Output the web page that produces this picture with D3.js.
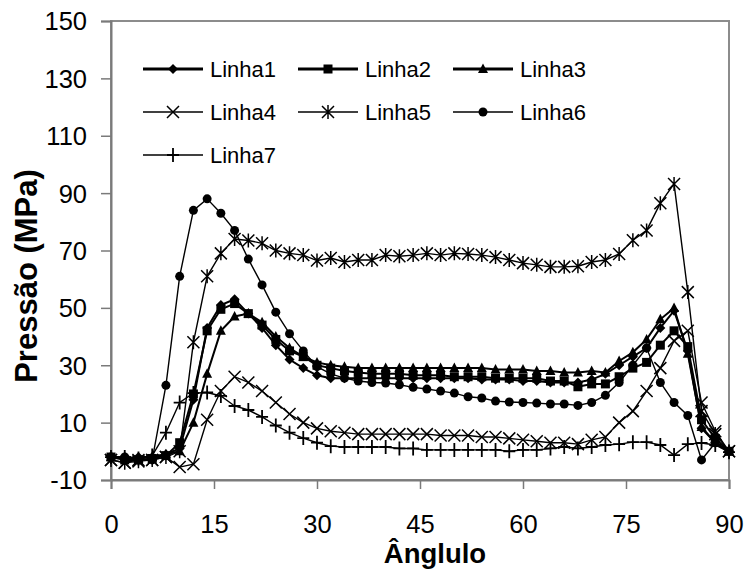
<!DOCTYPE html>
<html>
<head>
<meta charset="utf-8">
<script src="https://cdn.jsdelivr.net/npm/d3@7"></script>
<style>
  html, body { margin: 0; padding: 0; background: #fff; }
  svg { display: block; }
  text { font-family: "Liberation Sans", Arial, sans-serif; fill: #000; }
</style>
</head>
<body>
<svg id="chart" width="747" height="577"></svg>
<script>
const angles = [0,2,4,6,8,10,12,14,16,18,20,22,24,26,28,30,32,34,36,38,40,42,44,46,48,50,52,54,56,58,60,62,64,66,68,70,72,74,76,78,80,82,84,86,88,90];

const linha1 = [-2,-2.5,-2,-2,-1,1,18,43,51,53,48,43,37,32,29,26.5,25.5,25.5,25.5,25.5,25.5,25.5,25.5,25.5,25.5,25.5,25.5,25,25,25,24.5,24.5,24,24,24,25,27,30,33,36,43,49,35,8,3,0];
const linha2 = [-2,-3,-3,-2.5,-1.5,3,20,42,49.5,51.5,48,44,39,35,33,30,29,28,27.5,27,27,27,26.5,26.5,26.5,26,26,26,25.5,25.5,25.5,25.5,24.5,24.5,22.5,23.5,23.5,26,29,31,37,42,36.5,11,4.5,0];
const linha3 = [-2,-2,-2.5,-2,-1,0,10,27,42,47,48,45,40,36,33,31,30,29.5,29,29,29,29,29,29,29,29,29,29,28.5,28.5,28.5,28,28,27.5,27.5,28,27.5,31.5,34.5,39,46,50,34,8.5,3,0];
const linha4 = [-3,-4,-3,-3,-2,-5.5,-4.5,11,21,26,24,21,17,13,10,8,7,6.5,6,6,6,6,6,6,5.5,5.5,5.5,5,5,4.5,4,3.5,3,3,2.5,4,5,10,14,21,29,38.5,42,17,7,0];
const linha5 = [-3,-4,-3.5,-3,-2,0,38,61,69,74,73.5,72.5,70,69,68.4,66.5,67.4,66,66.7,66.7,68.4,68,68.4,69,68.4,69,68.8,68.4,67.7,66.7,65.6,65,64.3,64.3,64.5,66,66.7,68.8,73.6,77,86.5,93.2,55.5,14,6,0];
const linha6 = [-2,-2,-3,-3,23,61,84,88,83,77,67,58,48.5,41,35,29.5,27,25.5,24.5,24,23.8,23.2,22.3,21.7,21,20.3,19,18.6,17.5,17.2,17,16.8,16.5,16.5,16,17,19.5,24,30,36,24,17,12.5,-3,3,0];
const linha7 = [-2,-2,-2.5,-1.5,6.5,17,20.3,20.5,19.3,15.8,14.4,12,9,6.5,4.6,3,1.8,1.5,1.5,1.5,1.5,1,1,0.5,0.5,0.5,0.5,0.5,0.5,0,0.5,0.5,1,1.5,1,1.5,2.2,2.5,3.2,3.2,2.2,-1.3,2.5,2.9,2.2,-0.3];

const seriesNames = ["Linha1","Linha2","Linha3","Linha4","Linha5","Linha6","Linha7"];
const seriesValues = [linha1, linha2, linha3, linha4, linha5, linha6, linha7];
const markerTypes = ["diamond","square","triangle","x","star","circle","plus"];

const xTicks = [0,15,30,45,60,75,90];
const yTicks = [-10,10,30,50,70,90,110,130,150];
const xTitle = "Ânglulo";
const yTitle = "Pressão (MPa)";

const svg = d3.select("#chart");
const margin = {left: 111, top: 21, right: 747 - 729, bottom: 577 - 480};
const W = 747, H = 577;

const x = d3.scaleLinear().domain([0, 90]).range([margin.left, W - margin.right]);
const y = d3.scaleLinear().domain([-10, 150]).range([H - margin.bottom, margin.top]);

// plot frame
svg.append("rect")
  .attr("x", x(0)).attr("y", y(150))
  .attr("width", x(90) - x(0)).attr("height", y(-10) - y(150))
  .attr("fill", "none").attr("stroke", "#8c8c8c").attr("stroke-width", 2);

const axisColor = "#7a7a7a";
const gx = svg.append("g").attr("transform", `translate(0,${y(-10)})`)
  .call(d3.axisBottom(x).tickValues(xTicks).tickSize(9).tickPadding(26).tickFormat(d => String(d)));
const gy = svg.append("g").attr("transform", `translate(${x(0)},0)`)
  .call(d3.axisLeft(y).tickValues(yTicks).tickSize(10).tickPadding(14).tickFormat(d => String(d)));
[gx, gy].forEach(g => {
  g.select(".domain").attr("stroke", axisColor).attr("stroke-width", 2);
  g.selectAll(".tick line").attr("stroke", axisColor).attr("stroke-width", 1.5);
  g.selectAll(".tick text").attr("font-size", 25.5).attr("font-family", "Liberation Sans, Arial, sans-serif").attr("fill", "#000");
});
gy.selectAll(".tick text").attr("dy", "0.35em");

// axis titles
svg.append("text")
  .attr("x", 435).attr("y", 563)
  .attr("text-anchor", "middle")
  .attr("font-size", 27.5).attr("font-weight", "bold")
  .text(xTitle);
svg.append("text")
  .attr("transform", "translate(37,276) rotate(-90)")
  .attr("text-anchor", "middle")
  .attr("font-size", 31).attr("font-weight", "bold")
  .text(yTitle);

// marker drawing
function drawMarker(g, type, cx, cy) {
  const s = g.append("g").attr("transform", `translate(${cx},${cy})`);
  switch (type) {
    case "diamond":
      s.append("path").attr("d", "M0,-5L5,0L0,5L-5,0Z").attr("fill", "#000");
      break;
    case "square":
      s.append("rect").attr("x", -4.5).attr("y", -4.5).attr("width", 9).attr("height", 9).attr("fill", "#000");
      break;
    case "triangle":
      s.append("path").attr("d", "M0,-5.5L5,4L-5,4Z").attr("fill", "#000");
      break;
    case "circle":
      s.append("circle").attr("r", 4.5).attr("fill", "#000");
      break;
    case "x":
      s.append("path").attr("d", "M-6,-6L6,6M-6,6L6,-6").attr("stroke", "#000").attr("stroke-width", 1.5).attr("fill", "none");
      break;
    case "star":
      s.append("path").attr("d", "M-6,-6L6,6M-6,6L6,-6M0,-7L0,7").attr("stroke", "#000").attr("stroke-width", 1.5).attr("fill", "none");
      break;
    case "plus":
      s.append("path").attr("d", "M-6,0L6,0M0,-7L0,7").attr("stroke", "#000").attr("stroke-width", 1.8).attr("fill", "none");
      break;
  }
}

const lineWidths = [2, 2, 2, 1.4, 1.4, 1.4, 1.4];
const plot = svg.append("g");
seriesValues.forEach((vals, i) => {
  const pts = angles.map((a, j) => [a, vals[j]]);
  const line = d3.line().x(d => x(d[0])).y(d => y(d[1]));
  plot.append("path").datum(pts)
    .attr("d", line).attr("fill", "none").attr("stroke", "#000").attr("stroke-width", lineWidths[i]);
});
seriesValues.forEach((vals, i) => {
  const g = plot.append("g");
  angles.forEach((a, j) => drawMarker(g, markerTypes[i], x(a), y(vals[j])));
});

// legend
const legX = [143, 298, 453];
const legY = [69, 112, 155];
const legLineW = [3, 3, 3, 1.5, 1.5, 1.5, 1.5];
const leg = svg.append("g");
seriesNames.forEach((name, i) => {
  const col = i % 3, row = Math.floor(i / 3);
  const lx = legX[col], ly = legY[row];
  leg.append("line").attr("x1", lx).attr("x2", lx + 60).attr("y1", ly).attr("y2", ly)
    .attr("stroke", "#000").attr("stroke-width", legLineW[i]);
  drawMarker(leg, markerTypes[i], lx + 30, ly);
  leg.append("text").attr("x", lx + 67).attr("y", ly).attr("dy", "0.35em")
    .attr("font-size", 22).text(name);
});
</script>
</body>
</html>
